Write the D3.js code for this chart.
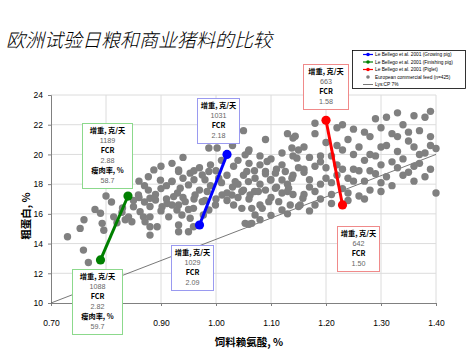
<!DOCTYPE html>
<html>
<head>
<meta charset="utf-8">
<script src="https://cdn.jsdelivr.net/npm/d3@7"></script>
<style>
  html, body { margin: 0; padding: 0; background: #fff; }
  svg { display: block; }
</style>
</head>
<body>
<svg id="chart" width="467" height="350"></svg>
<script>
// Axis ticks
const xTicks = [0.70, 0.80, 0.90, 1.00, 1.10, 1.20, 1.30, 1.40];
const xTickLabels = ["0.70", "", "0.90", "1.00", "1.10", "1.20", "1.30", "1.40"];
const yTicks = [10, 12, 14, 16, 18, 20, 22, 24];

// European commercial feeds: lysine (%) and crude protein (%)
const feedLys = [
  0.730, 0.753, 0.759, 0.768, 0.790, 0.793, 0.796, 0.814, 0.820, 0.829,
  0.835, 0.841, 0.847, 0.850, 0.859, 0.862, 0.868, 0.877, 0.877, 0.880,
  0.880, 0.871, 0.880, 0.880, 0.893, 0.890, 0.899, 0.902, 0.911, 0.914,
  0.920, 0.932, 0.923, 0.929, 0.932, 0.887,
  1.050, 0.987, 1.002, 1.059, 1.032, 0.932, 0.953, 0.975, 0.987, 1.056,
  1.080, 1.093, 1.090, 1.108, 1.126, 1.138, 1.147, 1.144, 1.071, 1.059,
  1.099, 1.120, 1.138, 1.108, 1.132, 1.077, 1.062, 1.047, 1.035, 1.029,
  1.005, 1.011, 0.999, 1.032, 1.047, 1.065, 1.071, 1.065, 1.053, 1.084,
  1.096, 1.114, 1.120, 1.135, 1.153, 1.158, 1.053,
  0.935, 0.950, 0.962, 0.944, 0.932, 0.959, 0.975, 0.984, 0.938, 0.953,
  0.932, 0.950, 0.959, 0.977, 0.987,
  1.16, 1.17, 1.18, 1.16, 1.17, 1.19, 1.18, 1.16, 1.19, 1.21,
  1.17, 1.19, 1.20, 1.21, 1.22, 1.22, 1.21, 1.23, 1.24, 1.25,
  1.23, 1.24, 1.26, 1.27, 1.26, 1.27, 1.28, 1.26, 1.29, 1.29,
  1.28, 1.30, 1.31, 1.30, 1.31, 1.32, 1.33, 1.33, 1.32, 1.34,
  1.35, 1.34, 1.35, 1.36, 1.37, 1.36, 1.37, 1.38, 1.39, 1.38,
  1.39, 1.40, 1.39, 1.36, 1.33, 1.29, 1.25, 1.22, 1.18, 1.14,
  1.27, 1.30, 1.24, 1.35, 1.31, 1.38, 1.40, 1.18, 1.23,
  0.96, 0.97, 0.99, 1.00, 1.01, 1.02, 1.04, 1.03, 1.05, 1.06,
  1.07, 1.08, 1.09, 1.10, 1.11, 1.12, 1.13, 1.14, 1.15, 1.12,
  1.10, 1.06, 1.04, 0.99, 0.97, 0.95, 0.93, 0.91, 0.89, 0.92,
  0.94, 0.90, 0.86, 0.84, 0.87, 0.85, 0.83, 0.81, 0.80, 0.78,
  0.76, 0.88, 0.90, 0.92, 0.94, 0.96, 0.98, 1.00, 1.02, 1.08,
  1.13, 1.15, 1.13, 1.10, 1.06, 1.08,
  1.16, 1.14, 1.12, 1.10, 1.08, 1.06, 1.04, 1.03, 1.11, 1.09,
  1.07, 1.05, 1.02, 1.01, 0.98, 0.96, 0.94, 0.92, 0.91, 0.90,
  0.87, 0.86, 1.19, 1.20, 1.22, 1.25, 1.28, 1.32, 1.34, 1.30,
  1.27, 1.37, 1.33, 1.28, 1.25, 1.23, 1.20, 1.17, 1.14, 1.18,
  1.21, 1.24, 1.30, 1.36, 1.39, 1.15, 1.13, 1.09
];
const feedCP = [
  14.46, 15.02, 13.56, 12.73, 16.04, 15.36, 14.90, 15.80, 15.40, 16.10,
  15.60, 15.80, 15.47, 16.48, 17.27, 16.15, 15.80, 18.50, 17.60, 17.05,
  16.50, 15.47, 15.13, 14.57, 15.13, 16.93, 18.27, 16.48, 16.70, 15.80,
  18.17, 18.96, 17.16, 16.26, 14.80, 18.96,
  21.60, 20.43, 20.43, 20.20, 19.20, 18.85, 18.74, 18.62, 18.85, 18.85,
  19.30, 19.52, 18.85, 18.74, 18.85, 20.43, 19.75, 21.23, 18.40, 18.17,
  18.28, 18.28, 18.40, 17.72, 17.72, 17.50, 17.27, 17.50, 18.17, 17.27,
  18.40, 17.27, 16.60, 16.60, 16.37, 16.37, 15.92, 15.36, 15.36, 16.37,
  16.82, 16.82, 16.26, 16.60, 16.60, 17.05, 19.97,
  17.72, 17.95, 17.27, 16.82, 16.60, 16.37, 16.82, 17.50, 15.92, 15.70,
  15.25, 14.80, 15.13, 15.92, 16.26,
  20.5, 19.8, 19.2, 18.8, 18.3, 18.0, 17.5, 17.3, 17.0, 16.7,
  16.2, 19.5, 20.8, 19.9, 19.3, 18.6, 18.1, 17.7, 18.4, 19.0,
  20.3, 21.0, 20.5, 19.6, 18.9, 18.2, 17.6, 17.2, 18.7, 19.9,
  21.2, 21.8, 20.6, 19.3, 18.5, 17.9, 19.1, 20.2, 21.4, 22.0,
  20.9, 19.7, 18.8, 18.2, 19.4, 20.5, 21.6, 22.5, 21.2, 20.1,
  19.0, 17.4, 22.9, 22.6, 22.8, 22.4, 21.7, 21.8, 21.4, 21.1,
  17.0, 17.5, 16.9, 21.5, 22.5, 18.5, 20.4, 22.1, 22.0,
  18.3, 19.1, 19.3, 18.9, 19.6, 18.6, 18.0, 17.8, 18.6, 19.4,
  18.9, 18.0, 17.6, 18.3, 19.0, 19.3, 18.0, 18.6, 19.1, 17.4,
  17.1, 17.0, 17.1, 17.9, 17.6, 16.3, 17.4, 17.9, 17.3, 19.4,
  19.8, 19.2, 18.2, 18.7, 16.8, 16.9, 16.4, 16.8, 17.2, 16.3,
  15.6, 15.8, 16.2, 16.6, 17.1, 17.0, 16.9, 17.0, 17.4, 16.6,
  17.5, 16.5, 16.0, 15.9, 15.3, 15.6,
  19.0, 19.9, 20.1, 19.7, 19.9, 20.3, 19.6, 20.6, 17.8, 18.7,
  17.5, 17.6, 16.9, 18.1, 18.3, 18.9, 18.4, 18.2, 17.0, 17.7,
  17.9, 17.1, 19.9, 19.1, 20.6, 20.0, 20.0, 19.5, 18.6, 20.5,
  21.5, 20.0, 21.2, 18.9, 18.2, 19.0, 18.4, 17.8, 17.3, 16.6,
  17.3, 17.4, 18.1, 19.2, 20.6, 20.3, 21.4, 21.0
];

// Le Bellego et al. 2001 trial diets (start, end)
const finishingLys = [0.79, 0.84];
const finishingCP = [12.9, 17.2];
const growingLys = [0.97, 1.02];
const growingCP = [15.25, 20.0];
const pigletLys = [1.20, 1.23];
const pigletCP = [22.3, 16.6];

// Lys:CP 7% reference line endpoints (lysine %)
const ratioLys = [0.70, 1.40];
const ratioValue = 0.07;

// Legend entries
const legendLabels = [
  "Le Bellego et al. 2001 (Growing pig)",
  "Le Bellego et al. 2001 (Finishing pig)",
  "Le Bellego et al. 2001 (Piglet)",
  "European commercial feed (n=425)",
  "Lys:CP 7%"
];

// Performance callouts: [label, value] rows
const calloutFinishingHigh = [["增重, 克/天", "1189"], ["FCR", "2.88"], ["瘦肉率, %", "58.7"]];
const calloutFinishingLow = [["增重, 克/天", "1088"], ["FCR", "2.82"], ["瘦肉率, %", "59.7"]];
const calloutGrowingHigh = [["增重, 克/天", "1031"], ["FCR", "2.18"]];
const calloutGrowingLow = [["增重, 克/天", "1029"], ["FCR", "2.09"]];
const calloutPigletHigh = [["增重, 克/天", "663"], ["FCR", "1.58"]];
const calloutPigletLow = [["增重, 克/天", "642"], ["FCR", "1.50"]];

const svg = d3.select("#chart");
const latin = "'Liberation Sans', Arial, sans-serif";
const cjk = "'Noto Sans CJK SC', 'Liberation Sans', sans-serif";

const plot = { left: 51, right: 436, top: 95, bottom: 303 };
const x = d3.scaleLinear().domain([0.70, 1.40]).range([plot.left, plot.right]);
const y = d3.scaleLinear().domain([10, 24]).range([plot.bottom, plot.top]);

// Title
svg.append("text")
  .attr("x", 6).attr("y", 47)
  .attr("font-family", cjk)
  .attr("font-size", 19)
  .attr("font-style", "italic")
  .attr("font-weight", 300)
  .attr("fill", "#000")
  .text("欧洲试验日粮和商业猪料的比较");

// Gridlines
const grid = svg.append("g");
grid.selectAll(".hg").data(yTicks.slice(1)).enter().append("line")
  .attr("x1", plot.left).attr("x2", plot.right)
  .attr("y1", d => y(d)).attr("y2", d => y(d))
  .attr("stroke", "#dcdcdc").attr("stroke-width", 1);
grid.selectAll(".vg").data(xTicks.slice(1)).enter().append("line")
  .attr("x1", d => x(d)).attr("x2", d => x(d))
  .attr("y1", plot.top).attr("y2", plot.bottom)
  .attr("stroke", "#dcdcdc").attr("stroke-width", 1);

// Axes
const xAxis = d3.axisBottom(x).tickValues(xTicks)
  .tickFormat((d, i) => xTickLabels[i]).tickSize(3).tickPadding(14);
const gx = svg.append("g").attr("transform", `translate(0,${plot.bottom})`).call(xAxis);
gx.select(".domain").attr("stroke", "#808080");
gx.selectAll(".tick line").attr("stroke", "#808080");
gx.selectAll("text").attr("font-family", latin).attr("font-size", 8.5).attr("fill", "#000");

const yAxis = d3.axisLeft(y).tickValues(yTicks).tickFormat(d3.format("d")).tickSize(3).tickPadding(5);
const gy = svg.append("g").attr("transform", `translate(${plot.left},0)`).call(yAxis);
gy.select(".domain").attr("stroke", "#808080");
gy.selectAll(".tick line").attr("stroke", "#808080");
gy.selectAll("text").attr("font-family", latin).attr("font-size", 8.5).attr("fill", "#000");

// Axis titles
svg.append("text")
  .attr("transform", `translate(30,216) rotate(-90)`)
  .attr("text-anchor", "middle")
  .attr("font-family", cjk).attr("font-size", 10.5).attr("font-weight", 700)
  .text("粗蛋白, %");
svg.append("text")
  .attr("x", 249).attr("y", 346)
  .attr("text-anchor", "middle")
  .attr("font-family", cjk).attr("font-size", 10.5).attr("font-weight", 700)
  .text("饲料赖氨酸, %");

// Lys:CP 7% line
svg.append("line")
  .attr("x1", x(ratioLys[0])).attr("y1", y(ratioLys[0] / ratioValue))
  .attr("x2", x(ratioLys[1])).attr("y2", y(ratioLys[1] / ratioValue))
  .attr("stroke", "#555").attr("stroke-width", 0.8);

// Commercial feeds
svg.append("g").selectAll("circle")
  .data(feedLys.map((v, i) => [v, feedCP[i]]))
  .enter().append("circle")
  .attr("cx", d => x(d[0])).attr("cy", d => y(d[1]))
  .attr("r", 3.7).attr("fill", "#808080");

// Trial diet series
const series = [
  { lys: growingLys, cp: growingCP, color: "#0000ff" },
  { lys: finishingLys, cp: finishingCP, color: "#008000" },
  { lys: pigletLys, cp: pigletCP, color: "#ff0000" }
];
const line = d3.line().x(d => x(d[0])).y(d => y(d[1]));
series.forEach(s => {
  const pts = s.lys.map((v, i) => [v, s.cp[i]]);
  svg.append("path").attr("d", line(pts))
    .attr("fill", "none").attr("stroke", s.color).attr("stroke-width", 3);
  svg.append("g").selectAll("circle").data(pts).enter().append("circle")
    .attr("cx", d => x(d[0])).attr("cy", d => y(d[1]))
    .attr("r", 4.6).attr("fill", s.color);
});

// Callout boxes
function callout(rows, left, top, w, border) {
  const rowH = 10;
  const h = rows.length * 2 * rowH + 5;
  const g = svg.append("g").attr("transform", `translate(${left},${top})`);
  g.append("rect").attr("x", 0.5).attr("y", 0.5).attr("width", w).attr("height", h)
    .attr("fill", "#fff").attr("stroke", border).attr("stroke-width", 1);
  rows.forEach((r, i) => {
    g.append("text").attr("x", w / 2 + 0.5).attr("y", 10 + i * 2 * rowH)
      .attr("text-anchor", "middle")
      .attr("font-family", cjk).attr("font-size", 7.2).attr("font-weight", 700)
      .attr("fill", "#000").text(r[0]);
    g.append("text").attr("x", w / 2 + 0.5).attr("y", 10 + i * 2 * rowH + rowH)
      .attr("text-anchor", "middle")
      .attr("font-family", latin).attr("font-size", 7.2)
      .attr("fill", "#666").text(r[1]);
  });
}
callout(calloutFinishingHigh, 82, 123, 50, "#8cd98c");
callout(calloutFinishingLow, 72, 269, 50, "#8cd98c");
callout(calloutGrowingHigh, 197, 98, 42, "#9a9af0");
callout(calloutGrowingLow, 171, 245, 42, "#9a9af0");
callout(calloutPigletHigh, 303, 64, 45, "#f08a8a");
callout(calloutPigletLow, 337, 226, 42, "#f08a8a");

// Legend
const lg = svg.append("g").attr("transform", "translate(352,50)");
lg.append("rect").attr("x", 0.5).attr("y", 0.5).attr("width", 113).attr("height", 38)
  .attr("fill", "#fff").attr("stroke", "#000").attr("stroke-width", 0.8);
const legendKinds = [
  { type: "series", color: "#0000ff" },
  { type: "series", color: "#008000" },
  { type: "series", color: "#ff0000" },
  { type: "dot", color: "#808080" },
  { type: "line", color: "#555" }
];
legendLabels.forEach((lab, i) => {
  const ly = 4.5 + i * 7.5;
  const k = legendKinds[i];
  if (k.type !== "dot") {
    lg.append("line").attr("x1", 11).attr("x2", 21).attr("y1", ly).attr("y2", ly)
      .attr("stroke", k.color).attr("stroke-width", k.type === "series" ? 1.2 : 0.8);
  }
  if (k.type !== "line") {
    lg.append("circle").attr("cx", 16).attr("cy", ly).attr("r", 1.8).attr("fill", k.color);
  }
  lg.append("text").attr("x", 23).attr("y", ly + 1.8)
    .attr("font-family", latin).attr("font-size", 4.8).attr("fill", "#000").text(lab);
});
</script>
</body>
</html>
